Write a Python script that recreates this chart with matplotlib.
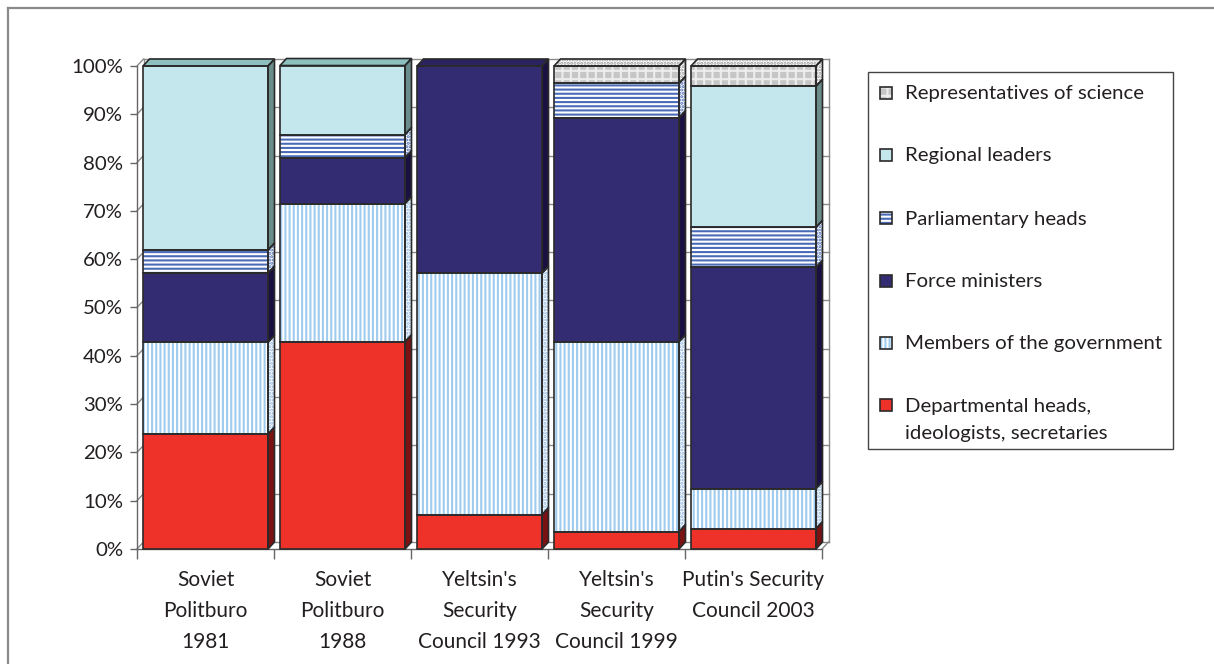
import matplotlib
matplotlib.use("Agg")
import matplotlib.pyplot as plt
from matplotlib.patches import Rectangle, Polygon
from matplotlib.lines import Line2D

plt.rcParams['font.family'] = ['Lato', 'DejaVu Sans']
plt.rcParams['hatch.linewidth'] = 1.5

# categories and stacked shares (%), bottom to top
categories = ["Soviet\nPolitburo\n1981", "Soviet\nPolitburo\n1988",
              "Yeltsin's\nSecurity\nCouncil 1993", "Yeltsin's\nSecurity\nCouncil 1999",
              "Putin's Security\nCouncil 2003"]

departmental = [23.8, 42.9, 7.1, 3.6, 4.2]
government = [19.0, 28.6, 50.0, 39.3, 8.3]
force = [14.3, 9.5, 42.9, 46.4, 45.8]
parliament = [4.8, 4.8, 0.0, 7.1, 8.3]
regional = [38.1, 14.3, 0.0, 0.0, 29.2]
science = [0.0, 0.0, 0.0, 3.6, 4.2]

series = [departmental, government, force, parliament, regional, science]
names = ["Departmental heads,\nideologists, secretaries", "Members of the government",
         "Force ministers", "Parliamentary heads", "Regional leaders",
         "Representatives of science"]

# front / side / top looks of each series
styles = [
    dict(fc='#EE3129', h=None, hc=None, sfc='#7A1214', sh=None, shc=None, tfc='#A81C1C', th=None, thc=None),
    dict(fc='white', h='||||', hc='#9FCBEF', sfc='white', sh='.....', shc='#8DB6E2', tfc='white', th='.....', thc='#8DB6E2'),
    dict(fc='#332C72', h=None, hc=None, sfc='#1B1042', sh=None, shc=None, tfc='#2A2360', th=None, thc=None),
    dict(fc='white', h='----', hc='#4A6BB7', sfc='white', sh='.....', shc='#4A6BB7', tfc='white', th='.....', thc='#4A6BB7'),
    dict(fc='#C4E7EE', h=None, hc=None, sfc='#6A8C8B', sh=None, shc=None, tfc='#8FC0C0', th=None, thc=None),
    dict(fc='#C6C6C6', h='++', hc='#EDEDED', sfc='white', sh='.....', shc='#9A9A9A', tfc='white', th='.....', thc='#9A9A9A'),
]

EDGE = '#2A2A2A'
TXT = '#231F20'
GRID = '#8A8A8A'
W, H = 1214, 664

fig = plt.figure(figsize=(W / 100, H / 100), dpi=100)
fig.patch.set_facecolor('white')

ax = fig.add_axes([137 / W, 1 - 549 / H, 685 / W, 483 / H])
ax.set_xlim(-0.5, len(categories) - 0.5)
ax.set_ylim(0, 100)
ax.patch.set_alpha(0)
for s in ['top', 'right']:
    ax.spines[s].set_visible(False)
for s in ['left', 'bottom']:
    ax.spines[s].set_color('#666666')
    ax.spines[s].set_linewidth(1.0)

# depth of the 3d effect, in data units
dx = 6.5 / 137
dy = 7 / 4.83

yt = list(range(0, 101, 10))
ax.set_yticks(yt)
ax.set_yticklabels([f'{v}%' for v in yt])
ax.tick_params(axis='y', length=5, width=1, color='#666666', labelsize=14.7,
               labelcolor=TXT, pad=5)
ax.set_xticks([i - 0.5 for i in range(len(categories) + 1)])
ax.set_xticklabels([])
ax.tick_params(axis='x', which='major', length=7, width=1, color='#666666')
ax.set_xticks(range(len(categories)), minor=True)
ax.set_xticklabels(categories, minor=True)
ax.tick_params(axis='x', which='minor', length=0, labelsize=15, labelcolor=TXT, pad=15)
for t in ax.get_xticklabels(minor=True):
    t.set_linespacing(1.68)

# back wall and floor
x0, x1 = -0.5, len(categories) - 0.5
for v in yt:
    ax.add_line(Line2D([x0, x0 + dx], [v, v + dy], color=GRID, lw=1, clip_on=False, zorder=1))
    ax.add_line(Line2D([x0 + dx, x1 + dx], [v + dy, v + dy], color=GRID, lw=1, clip_on=False, zorder=1))
ax.add_line(Line2D([x0 + dx, x0 + dx], [dy, 100 + dy], color=GRID, lw=1, clip_on=False, zorder=1))
ax.add_line(Line2D([x1 + dx, x1 + dx], [dy, 100 + dy], color=GRID, lw=1, clip_on=False, zorder=1))
ax.add_line(Line2D([x1, x1 + dx], [0, dy], color=GRID, lw=1, clip_on=False, zorder=1))


def face(target, verts, fc, hatch, hc, transform=None, z=3):
    kw = {} if transform is None else {'transform': transform}
    target.add_artist(Polygon(verts, closed=True, facecolor=fc, edgecolor=hc if hc else fc,
                              lw=0, hatch=hatch, clip_on=False, zorder=z, **kw))
    target.add_artist(Polygon(verts, closed=True, fill=False, edgecolor=EDGE, lw=1.2,
                              clip_on=False, zorder=z + 0.1, **kw))


bw = 125 / 137
for i in range(len(categories)):
    bottom = 0.0
    vals = [s[i] for s in series]
    top_idx = max(k for k, v in enumerate(vals) if v > 0)
    for k, v in enumerate(vals):
        if v <= 0:
            continue
        st = styles[k]
        l, r = i - bw / 2, i + bw / 2
        b, t = bottom, bottom + v
        face(ax, [(l, b), (r, b), (r, t), (l, t)], st['fc'], st['h'], st['hc'])
        face(ax, [(r, b), (r + dx, b + dy), (r + dx, t + dy), (r, t)], st['sfc'], st['sh'], st['shc'])
        if k == top_idx:
            face(ax, [(l, t), (r, t), (r + dx, t + dy), (l + dx, t + dy)], st['tfc'], st['th'], st['thc'])
        bottom = t


# legend box
def fx(x):
    return x / W


def fy(y):
    return 1 - y / H


fig.add_artist(Rectangle((fx(868), fy(449)), fx(1173) - fx(868), fy(72) - fy(449),
                         transform=fig.transFigure, fill=False, edgecolor='#444444', lw=1))
leg_y = [405, 343, 281, 218, 155, 93]
for k in range(len(series)):
    st = styles[k]
    yc = leg_y[k]
    sq = [(fx(880), fy(yc + 6)), (fx(892), fy(yc + 6)), (fx(892), fy(yc - 6)), (fx(880), fy(yc - 6))]
    face(fig, sq, st['fc'], st['h'], st['hc'], transform=fig.transFigure, z=5)
    extra = 28 * names[k].count('\n')
    fig.text(fx(905), fy(yc + 6.5 + extra), names[k], ha='left', va='baseline', fontsize=14.7,
             color=TXT, linespacing=1.72)

# outer frame
fig.add_artist(Line2D([fx(8), fx(8)], [0, fy(8)], color='#8A8A8A', lw=1.6))
fig.add_artist(Line2D([fx(8), 1], [fy(8), fy(8)], color='#8A8A8A', lw=1.6))

fig.savefig('out.png', dpi=100)
